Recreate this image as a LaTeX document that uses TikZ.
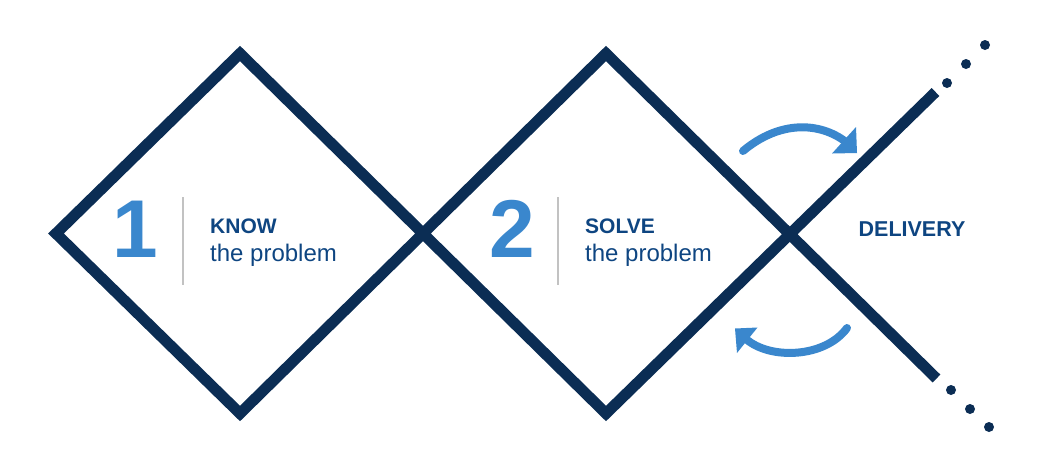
\documentclass[tikz,border=0pt]{standalone}
\usepackage{fontspec}
\setmainfont{Liberation Sans}
\definecolor{navy}{HTML}{0B2D54}
\definecolor{lblue}{HTML}{3A87CD}
\definecolor{tblue}{HTML}{0E4581}
\definecolor{sepgray}{HTML}{C2C2C2}
\begin{document}
\begin{tikzpicture}[x=1pt,y=-1pt,
  frame/.style={draw=navy,line width=11pt,line join=miter},
  loop/.style={draw=lblue,line width=8pt,line cap=round},
  head/.style={fill=lblue},
  dot/.style={circle,fill=navy,inner sep=0pt,minimum size=10pt},
  num/.style={text=lblue,font=\fontsize{82}{82}\selectfont\bfseries,inner sep=0pt,anchor=base},
  ttl/.style={text=tblue,font=\fontsize{21}{21}\selectfont\bfseries,inner sep=0pt,anchor=base west},
  sub/.style={text=tblue,font=\fontsize{24}{24}\selectfont,inner sep=0pt,anchor=base west},
  sep/.style={draw=sepgray,line width=2pt}]
\useasboundingbox (0,0) rectangle (1049,459);
% vertices
\coordinate (L1) at (56,233.5);
\coordinate (T1) at (240,53.5);
\coordinate (B1) at (240,413.5);
\coordinate (X1) at (423,233.5);
\coordinate (T2) at (606,53.5);
\coordinate (B2) at (606,413.5);
\coordinate (E1) at (935.5,92);
\coordinate (E2) at (936.5,378.5);
% diamond 1
\draw[frame] (L1) -- (T1) -- (X1) -- (B1) -- cycle;
% diamond 2 and continuing lines
\draw[frame] (E1) -- (B2) -- (X1) -- (T2) -- (E2);
% dots
\node[dot] (d1) at (947,83) {};
\node[dot] (d2) at (966,64) {};
\node[dot] (d3) at (985,45) {};
\node[dot] (d4) at (951,390) {};
\node[dot] (d5) at (970,409) {};
\node[dot] (d6) at (989,427) {};
% arrows
\coordinate (a1s) at (743,151);
\coordinate (a1e) at (846,142);
\draw[loop] (a1s) .. controls (780,120) and (820,122) .. (a1e);
\fill[head] (856,127) -- (857,153) -- (832,153.5) -- cycle;
\coordinate (a2s) at (847,328);
\coordinate (a2e) at (746,339);
\draw[loop] (a2s) .. controls (825,358) and (770,360) .. (a2e);
\fill[head] (757.5,327.5) -- (735,328.5) -- (737,353) -- cycle;
% texts
\node[num] (n1) at (135,257) {1};
\draw[sep] (183,197) -- (183,285);
\node[ttl] (k) at (210,233) {KNOW};
\node[sub] (kp) at (210,261) {the problem};
\node[num] (n2) at (512,257) {2};
\draw[sep] (558,197) -- (558,285);
\node[ttl] (s) at (585,233) {SOLVE};
\node[sub] (sp) at (585,261) {the problem};
\node[ttl,anchor=base,font=\fontsize{21.5}{21.5}\selectfont\bfseries] (dl) at (912,236) {DELIVERY};
\end{tikzpicture}
\end{document}
